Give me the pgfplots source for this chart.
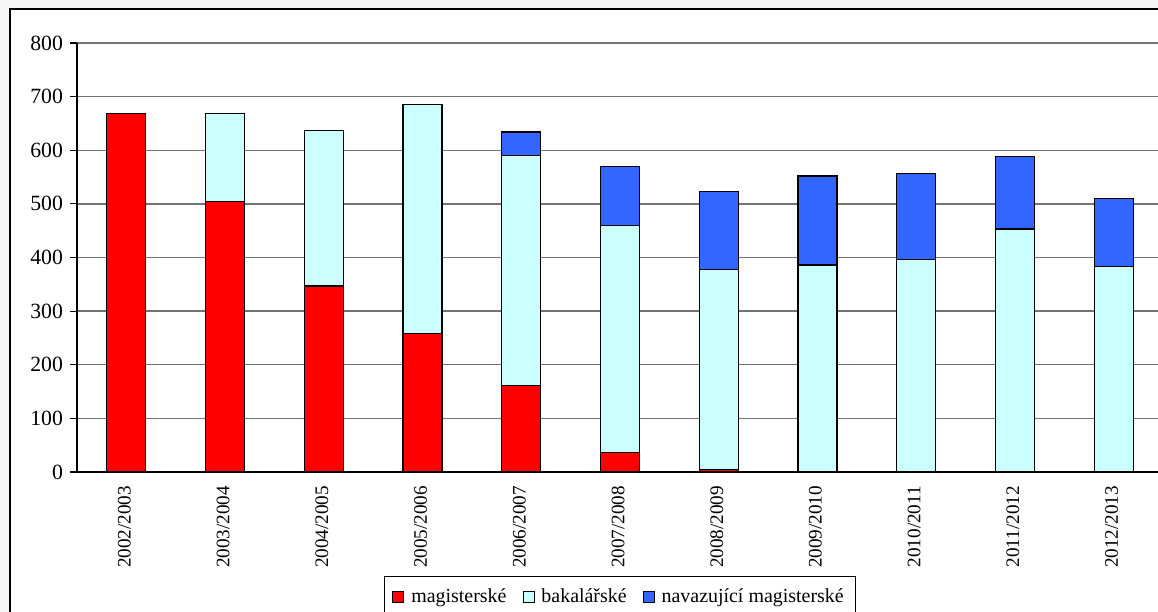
\documentclass[border=0pt]{standalone}
\usepackage{fontspec}
\setmainfont{Liberation Serif}
\usepackage{pgfplots}
\pgfplotsset{compat=1.18}
\definecolor{magred}{RGB}{255,0,0}
\definecolor{bakcyan}{RGB}{204,255,255}
\definecolor{navblue}{RGB}{51,102,255}
\definecolor{gridgray}{RGB}{115,115,115}
\definecolor{pagegray}{RGB}{246,246,246}

\begin{document}
\begin{tikzpicture}
\useasboundingbox (0bp,0bp) rectangle (579bp,306bp);
\fill[pagegray] (0bp,0bp) rectangle (579bp,306bp);
\filldraw[fill=white, draw=black, line width=0.8bp] (5bp,-30bp) rectangle (640bp,301.5bp);
\begin{axis}[
  at={(38.5bp,70bp)}, anchor=south west,
  scale only axis, width=543bp, height=214.5bp,
  ybar stacked, bar width=19.5bp,
  xmin=-0.5, xmax=10.5, ymin=0, ymax=800,
  ytick={0,100,...,800},
  xtick={0,...,10},
  xticklabels={2002/2003,2003/2004,2004/2005,2005/2006,2006/2007,2007/2008,2008/2009,2009/2010,2010/2011,2011/2012,2012/2013},
  x tick label style={rotate=90, anchor=east, yshift=1bp, font=\fontsize{9.6}{10}\selectfont},
  y tick label style={font=\fontsize{10.9}{12}\selectfont},
  /pgf/number format/assume math mode=true,
  axis x line*=bottom, axis y line*=left,
  axis line style={black, line width=0.6bp},
  tick align=outside,
  x tick style={draw=none},
  y tick style={black, line width=0.6bp},
  major tick length=3.5bp,
  extra x ticks={-0.5,0.5,...,10.5},
  extra x tick labels={},
  extra x tick style={grid=none, major tick length=2.5bp, tick style={draw=black, line width=0.6bp}},
  ymajorgrids, grid style={gridgray, line width=0.7bp},
  legend style={at={(0.5,-0.2424)}, anchor=north, legend columns=-1,
    draw=black, line width=0.6bp, font=\fontsize{10}{12}\selectfont,
    inner xsep=4bp, inner ysep=4bp,
    /tikz/every odd column/.append style={column sep=1.5bp},
    /tikz/every even column/.append style={column sep=6bp}},
  legend image code/.code={\draw[#1, line width=0.5bp] (0bp,-2.75bp) rectangle (5.5bp,2.75bp);},
  every axis plot/.append style={draw=black, line width=0.6bp},
]
\addplot[fill=magred] coordinates {(0,668)(1,505)(2,347)(3,259)(4,161)(5,36)(6,5)(7,0)(8,0)(9,0)(10,0)};
\addplot[fill=bakcyan] coordinates {(0,0)(1,163)(2,290)(3,427)(4,429)(5,424)(6,373)(7,386)(8,396)(9,453)(10,383)};
\addplot[fill=navblue] coordinates {(0,0)(1,0)(2,0)(3,0)(4,44)(5,109)(6,145)(7,166)(8,161)(9,135)(10,127)};
\legend{magisterské,bakalářské,navazující magisterské}
\end{axis}
\end{tikzpicture}
\end{document}
